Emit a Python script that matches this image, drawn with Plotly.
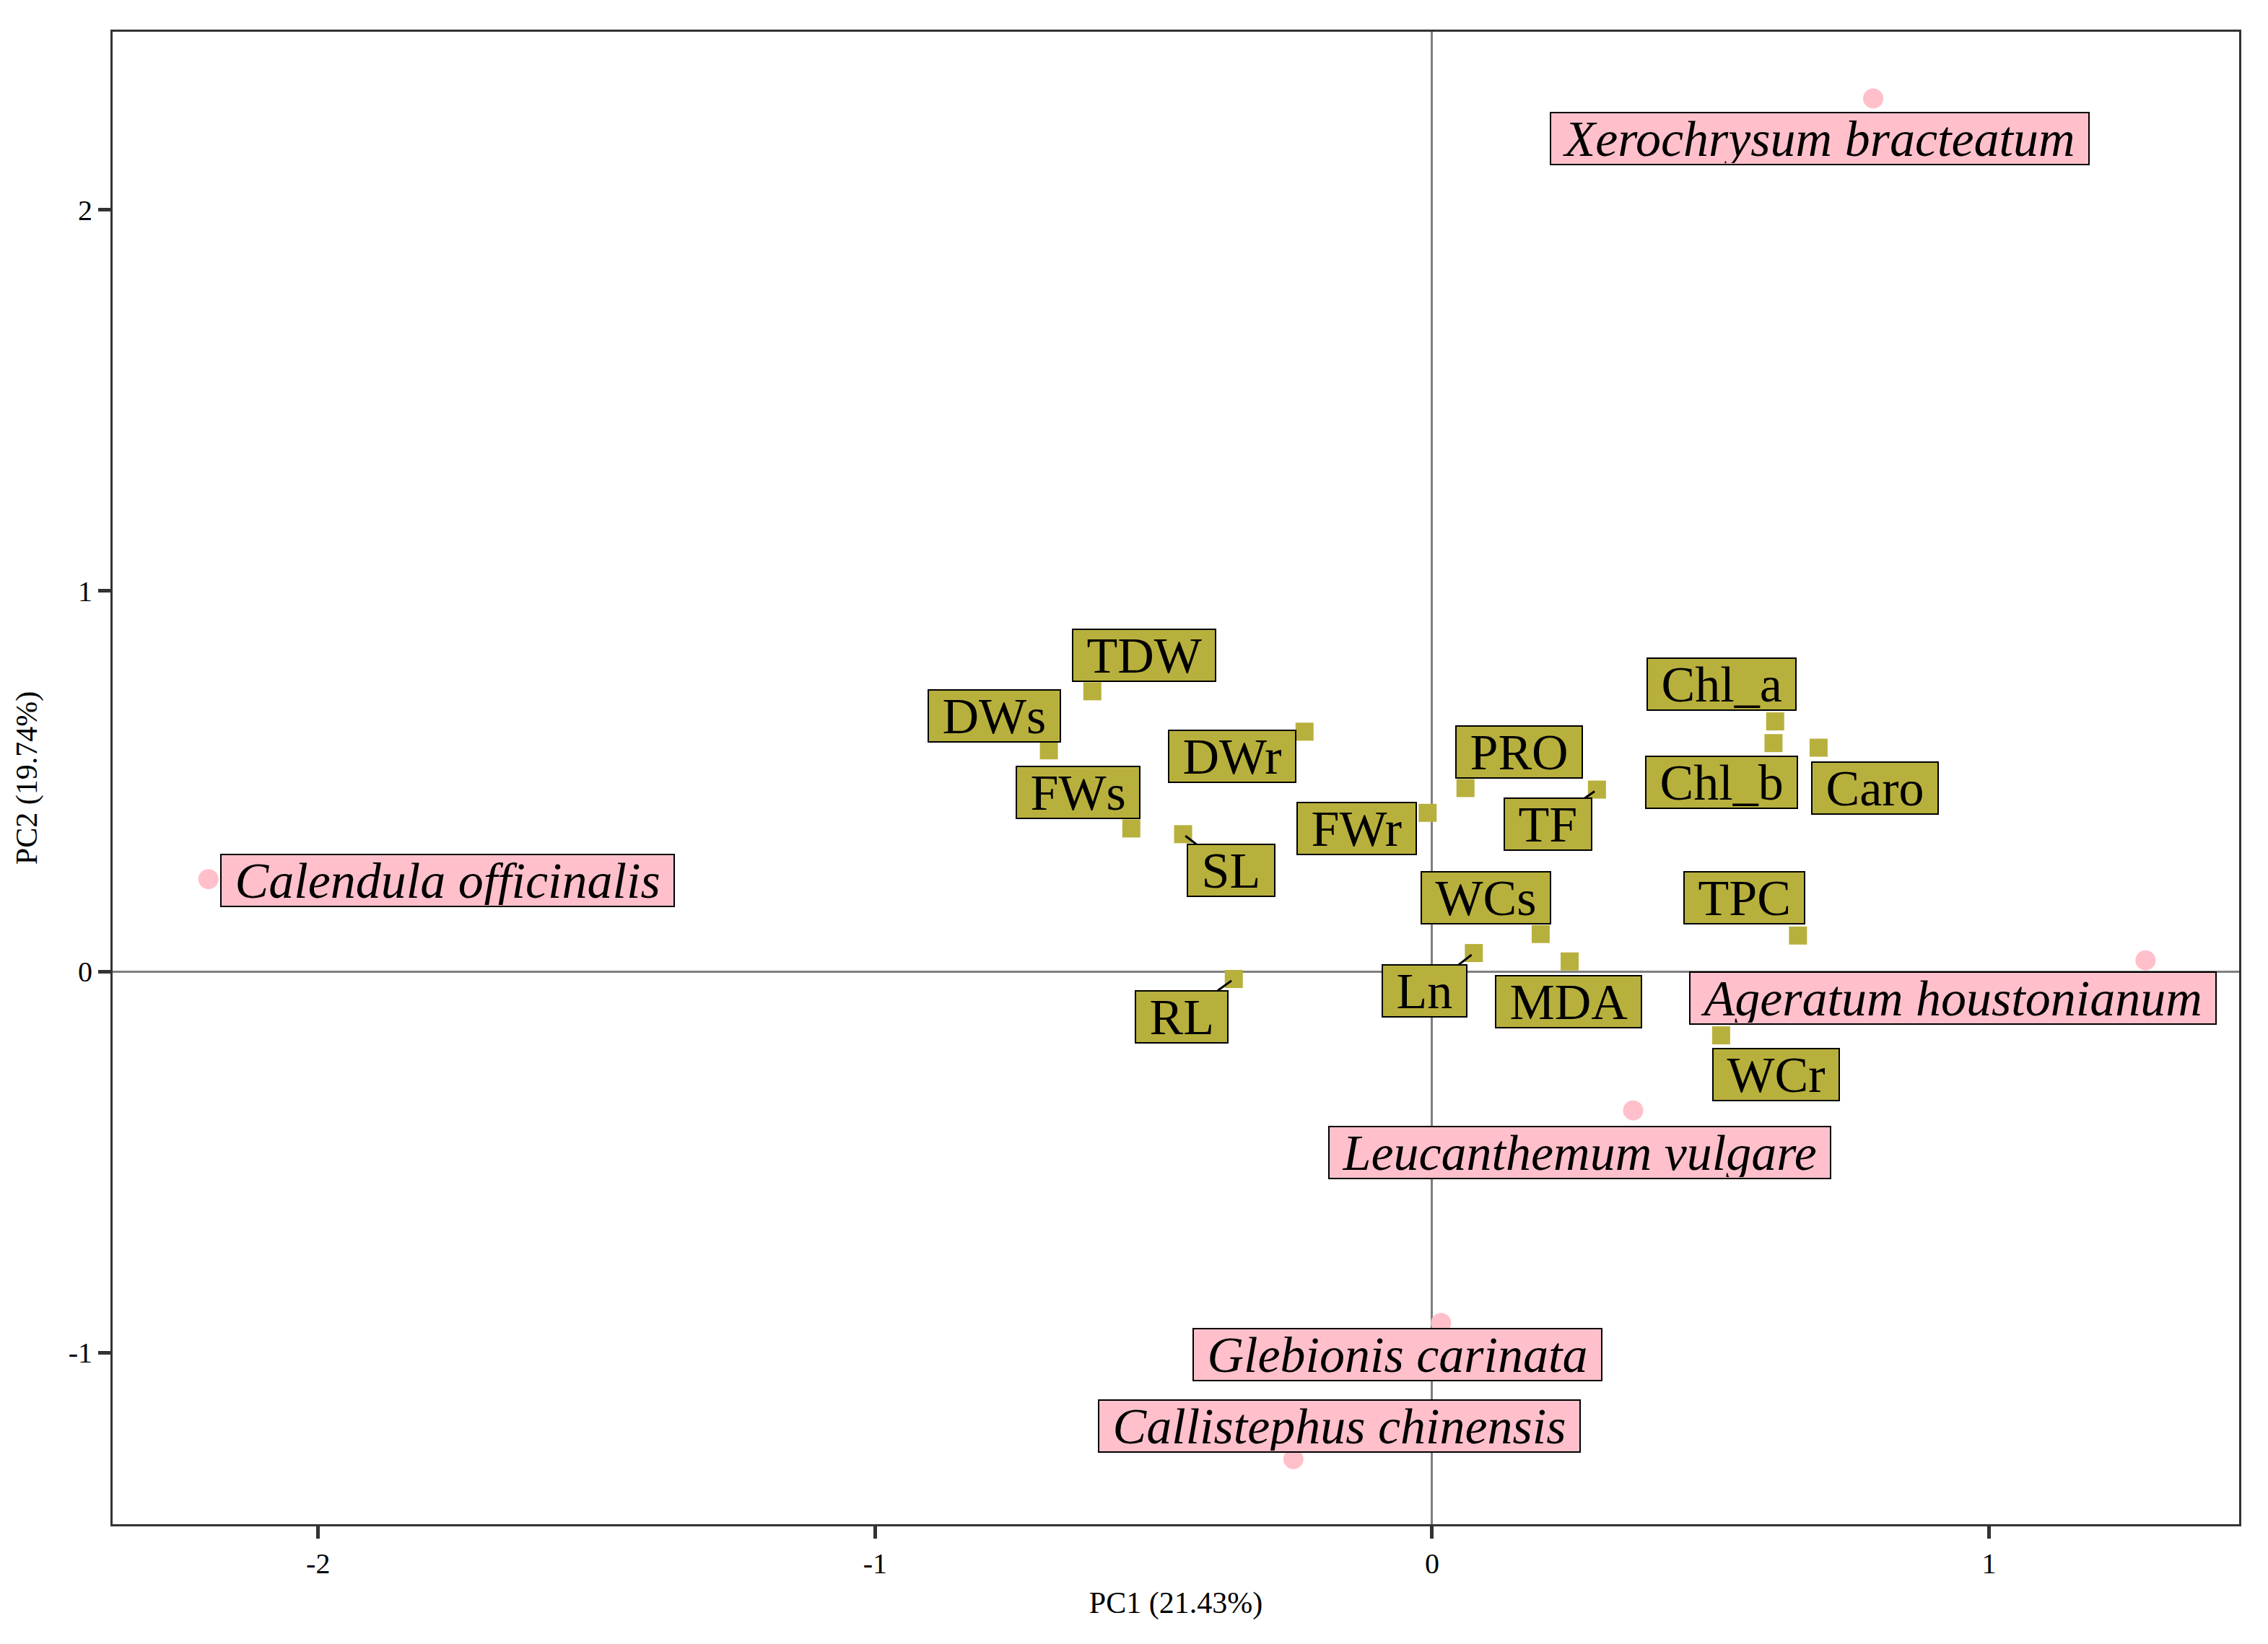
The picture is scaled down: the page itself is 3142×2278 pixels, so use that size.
import plotly.graph_objects as go

# ── PCA scores (species) ──────────────────────────────────────────────────────
species = [
    "Xerochrysum bracteatum", "Calendula officinalis", "Ageratum houstonianum",
    "Leucanthemum vulgare", "Glebionis carinata", "Callistephus chinensis",
]
sp_pc1 = [0.792, -2.197, 1.281, 0.361, 0.016, -0.249]
sp_pc2 = [2.292, 0.243, 0.030, -0.364, -0.922, -1.279]

# ── PCA loadings (variables) ──────────────────────────────────────────────────
variables = [
    "TDW", "DWs", "DWr", "FWs", "SL", "FWr", "PRO", "TF", "Chl_a", "Chl_b",
    "Caro", "TPC", "WCs", "Ln", "MDA", "RL", "WCr",
]
var_pc1 = [-0.610, -0.688, -0.229, -0.540, -0.447, -0.008, 0.060, 0.296, 0.616,
           0.613, 0.694, 0.657, 0.195, 0.075, 0.247, -0.356, 0.519]
var_pc2 = [0.736, 0.581, 0.630, 0.376, 0.361, 0.417, 0.482, 0.478, 0.657,
           0.600, 0.588, 0.095, 0.099, 0.049, 0.027, -0.019, -0.167]

x_ticks = [-2, -1, 0, 1]
y_ticks = [-1, 0, 1, 2]
x_title = "PC1 (21.43%)"
y_title = "PC2 (19.74%)"

# repelled label offsets in screen pixels (label centre relative to point)
sp_dx = [-74, 331, -267, -74, -60, 64]
sp_dy = [56, 2, 52, 58, 44, -46]
var_dx = [72, -76, -100, -74, 66, -98, 74, -68, -74, -72, 78, -74, -76, -68, -2, -72, 76]
var_dy = [-50, -48, 34, -50, 50, 22, -50, 48, -52, 54, 56, -52, -50, 52, 56, 52, 54]
var_segment = {"SL", "TF", "Ln", "RL"}

PINK = "#FFC0CB"
OLIVE = "#B8B03C"
FONT = "Liberation Serif, Times New Roman, serif"
NB = "\u00a0"

fig = go.Figure()
fig.add_trace(go.Scatter(
    x=sp_pc1, y=sp_pc2, mode="markers",
    marker=dict(color=PINK, size=28, symbol="circle"),
    showlegend=False,
))
fig.add_trace(go.Scatter(
    x=var_pc1, y=var_pc2, mode="markers",
    marker=dict(color=OLIVE, size=25, symbol="square"),
    showlegend=False,
))

annotations = []
for name, x, y, dx, dy in zip(species, sp_pc1, sp_pc2, sp_dx, sp_dy):
    annotations.append(dict(
        x=x, y=y, ax=dx, ay=dy, text=f"{NB}<i>{name}</i>{NB}",
        showarrow=True, arrowcolor="rgba(0,0,0,0)", arrowhead=0,
        font=dict(family=FONT, size=70, color="black"), height=68,
        bgcolor=PINK, bordercolor="black", borderwidth=2, borderpad=1,
    ))
for name, x, y, dx, dy in zip(variables, var_pc1, var_pc2, var_dx, var_dy):
    seg = name in var_segment
    annotations.append(dict(
        x=x, y=y, ax=dx, ay=dy, text=f"{NB}{name}{NB}",
        showarrow=True, arrowhead=0, arrowwidth=3, standoff=4,
        arrowcolor="black" if seg else "rgba(0,0,0,0)",
        font=dict(family=FONT, size=70, color="black"), height=68,
        bgcolor=OLIVE, bordercolor="black", borderwidth=2, borderpad=1,
    ))

axis_common = dict(
    showgrid=False, zeroline=True, zerolinecolor="#7F7F7F", zerolinewidth=3,
    showline=True, mirror=True, linecolor="#333333", linewidth=3,
    ticks="outside", ticklen=17, tickwidth=5, tickcolor="#333333",
    tickfont=dict(family=FONT, size=40, color="black"),
)

fig.update_layout(
    width=3142, height=2278,
    paper_bgcolor="white", plot_bgcolor="white",
    margin=dict(l=148, r=48, t=36, b=174),
    annotations=annotations,
    font=dict(family=FONT, color="black"),
    xaxis=dict(
        range=[-2.369, 1.449], tickvals=x_ticks,
        ticktext=[str(v) for v in x_ticks],
        title=dict(text=x_title, font=dict(family=FONT, size=42), standoff=18),
        **axis_common,
    ),
    yaxis=dict(
        range=[-1.450, 2.467], tickvals=y_ticks,
        ticktext=[str(v) for v in y_ticks],
        title=dict(text=y_title, font=dict(family=FONT, size=42), standoff=30),
        **axis_common,
    ),
)

fig.write_html("out.html")
